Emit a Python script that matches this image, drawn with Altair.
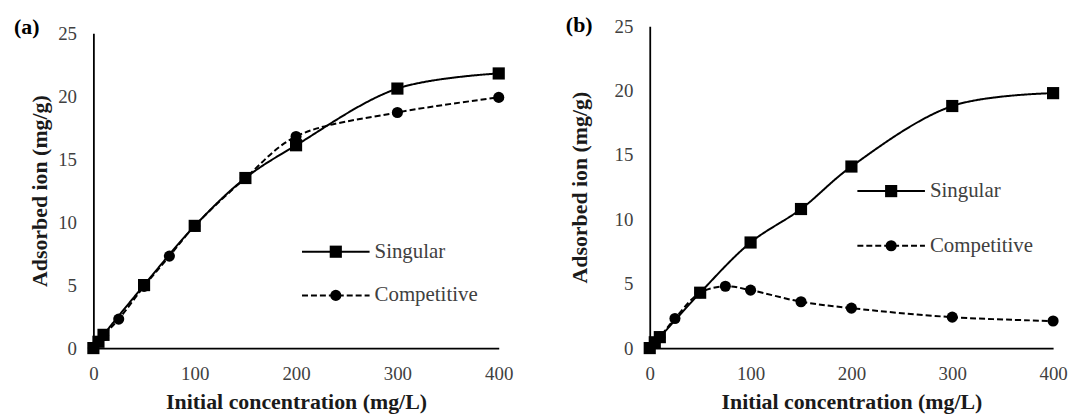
import altair as alt
import pandas as pd

# ---------------- data ----------------
series_names = ["Singular", "Competitive"]

a_singular_x = [0, 5, 10, 50, 100, 150, 200, 300, 400]
a_singular_y = [0, 0.5, 1.05, 5.0, 9.7, 13.5, 16.1, 20.6, 21.8]
a_competitive_x = [0, 5, 10, 25, 50, 75, 100, 150, 200, 300, 400]
a_competitive_y = [0, 0.5, 1.0, 2.3, 4.9, 7.3, 9.7, 13.5, 16.8, 18.7, 19.9]

b_singular_x = [0, 5, 10, 50, 100, 150, 200, 300, 400]
b_singular_y = [0, 0.45, 0.85, 4.3, 8.2, 10.8, 14.1, 18.8, 19.8]
b_competitive_x = [0, 5, 10, 25, 50, 75, 100, 150, 200, 300, 400]
b_competitive_y = [0, 0.45, 0.85, 2.3, 4.3, 4.8, 4.5, 3.6, 3.1, 2.4, 2.1]

x_ticks = [0, 100, 200, 300, 400]
y_ticks = [0, 5, 10, 15, 20, 25]

x_title = "Initial concentration (mg/L)"
y_title = "Adsorbed ion (mg/g)"

FONT = "Liberation Serif"
LABEL_COLOR = "#404040"
H = 324


def frame(sx, sy, cx, cy):
    rows = [{"x": x, "y": y, "series": "Singular"} for x, y in zip(sx, sy)]
    rows += [{"x": x, "y": y, "series": "Competitive"} for x, y in zip(cx, cy)]
    return pd.DataFrame(rows)


def panel(df, tag, w, ytop, tag_x, tag_y, ytitle_x, leg_x0, leg_y0, leg_gap):
    xs = alt.Scale(domain=[0, 400], nice=False)
    ys = alt.Scale(domain=[0, 25], nice=False, range=[H, ytop])
    x_enc = alt.X(
        "x:Q", scale=xs,
        axis=alt.Axis(values=x_ticks, title=x_title, labelPadding=17,
                      labelFlush=False,
                      titleX=w / 2, titleY=54, titleBaseline="middle",
                      titleAlign="center"),
    )
    y_enc = alt.Y(
        "y:Q", scale=ys,
        axis=alt.Axis(values=y_ticks, title=y_title, labelPadding=17,
                      labelFlush=False,
                      titleX=ytitle_x, titleY=(H + ytop) / 2, titleAngle=-90,
                      titleBaseline="middle", titleAlign="center"),
    )
    dash = alt.StrokeDash(
        "series:N",
        scale=alt.Scale(domain=series_names, range=[[1, 0], [6, 3]]),
        legend=None,
    )
    lines = alt.Chart(df).mark_line(
        interpolate="catmull-rom", color="black", strokeWidth=2
    ).encode(x=x_enc, y=y_enc, strokeDash=dash, detail="series:N")

    pts = alt.Chart(df).mark_point(filled=True, color="black", opacity=1).encode(
        x="x:Q", y="y:Q",
        shape=alt.Shape("series:N",
                        scale=alt.Scale(domain=series_names, range=["square", "circle"]),
                        legend=None),
        size=alt.Size("series:N",
                      scale=alt.Scale(domain=series_names, range=[150, 125]),
                      legend=None),
    )

    one = alt.Data(values=[{"k": 1}])
    layers = [lines, pts]
    # hand-drawn legend (line + marker + text)
    for i, (name, shp, sz, dsh) in enumerate(
        [("Singular", "square", 150, [1, 0]), ("Competitive", "circle", 125, [6, 3])]
    ):
        yy = leg_y0 + i * leg_gap
        layers.append(
            alt.Chart(one).mark_rule(color="black", strokeWidth=2, strokeDash=dsh).encode(
                x=alt.value(leg_x0), x2=alt.value(leg_x0 + 68), y=alt.value(yy)
            )
        )
        layers.append(
            alt.Chart(one).mark_point(filled=True, color="black", opacity=1,
                                      shape=shp, size=sz).encode(
                x=alt.value(leg_x0 + 34), y=alt.value(yy)
            )
        )
        layers.append(
            alt.Chart(one).mark_text(align="left", baseline="middle", font=FONT,
                                     fontSize=21, color=LABEL_COLOR).encode(
                x=alt.value(leg_x0 + 73), y=alt.value(yy), text=alt.value(name)
            )
        )
    layers.append(
        alt.Chart(one).mark_text(align="center", baseline="middle", font=FONT,
                                 fontSize=22, fontWeight="bold", color="black").encode(
            x=alt.value(tag_x), y=alt.value(tag_y), text=alt.value(tag)
        )
    )
    return alt.layer(*layers).properties(width=w, height=H)


df_a = frame(a_singular_x, a_singular_y, a_competitive_x, a_competitive_y)
df_b = frame(b_singular_x, b_singular_y, b_competitive_x, b_competitive_y)

pa = panel(df_a, "(a)", 408, 7, -67, 1, -54, 210, 227, 44)
pb = panel(df_b, "(b)", 406, 0, -71, -1, -71, 209, 166, 55)

chart = (
    alt.hconcat(pa, pb, spacing=52)
    .properties(padding={"left": 14, "top": 13, "right": 0, "bottom": 0},
                background="white")
    .configure_view(stroke=None)
    .configure_axis(
        grid=False, ticks=False, tickSize=0,
        domainColor="black", domainWidth=1.8,
        labelFont=FONT, labelFontSize=19, labelColor=LABEL_COLOR,
        titleFont=FONT, titleFontSize=22, titleFontWeight="bold", titleColor="#1a1a1a",
    )
)

chart.save("out.html", embed_options={"renderer": "svg", "actions": False})
